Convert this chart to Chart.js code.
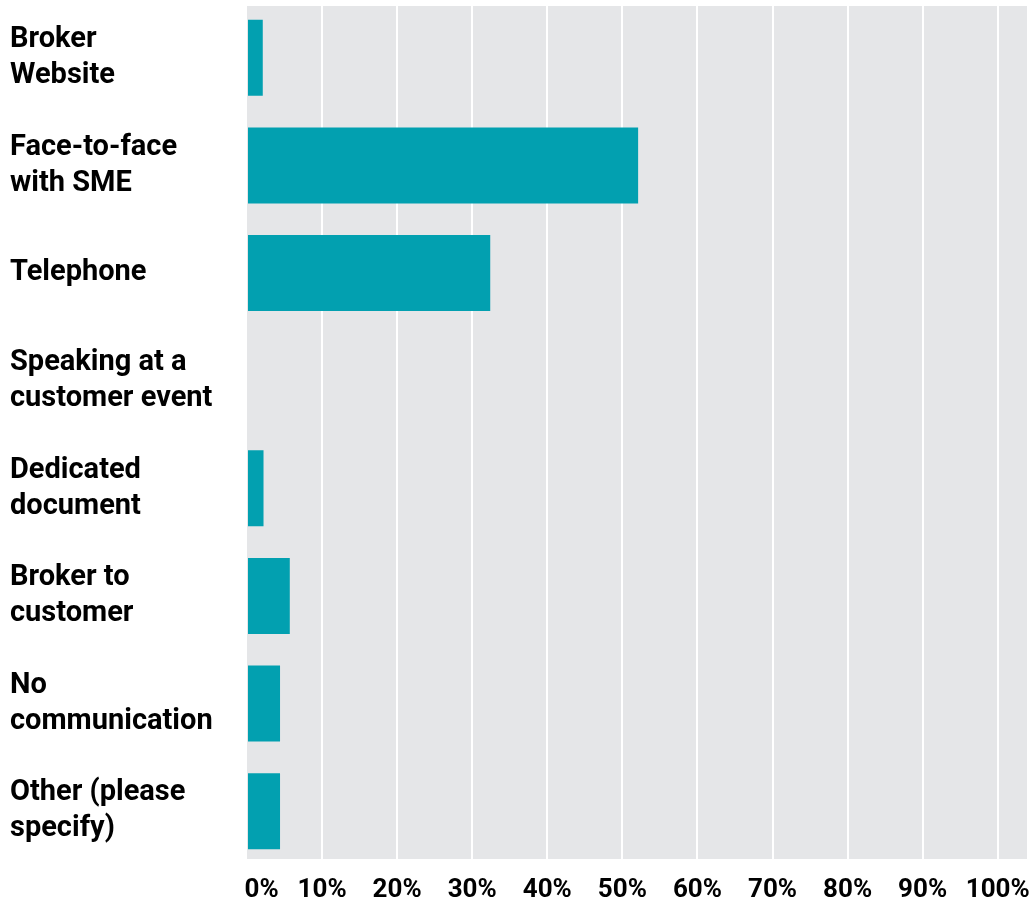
<!DOCTYPE html>
<html>
<head>
<meta charset="utf-8">
<script src="https://cdn.jsdelivr.net/npm/chart.js@4/dist/chart.umd.min.js"></script>
<style>
  html, body { margin: 0; padding: 0; background: #fff; }
  #wrap { width: 1031px; height: 906px; }
</style>
</head>
<body>
<div id="wrap"><canvas id="commsChart"></canvas></div>
<script>
const categories = [
  ['Broker', 'Website'],
  ['Face-to-face', 'with SME'],
  'Telephone',
  ['Speaking at a', 'customer event'],
  ['Dedicated', 'document'],
  ['Broker to', 'customer'],
  ['No', 'communication'],
  ['Other (please', 'specify)']
];
const shares = [2.1, 52.1, 32.4, 0, 2.2, 5.7, 4.4, 4.4];
const tickValues = [0, 10, 20, 30, 40, 50, 60, 70, 80, 90, 100];

const FONT = 'Roboto, "Liberation Sans", sans-serif';

// grey panel behind the bars, a little inside the plot box top and bottom
const panelBg = {
  id: 'panelBg',
  beforeDraw(chart) {
    const { ctx, chartArea: a } = chart;
    ctx.save();
    ctx.fillStyle = '#e5e6e8';
    ctx.fillRect(a.left, a.top + 2, a.right - a.left, a.bottom - a.top - 8);
    ctx.restore();
  }
};

function renderChart() {
  new Chart(document.getElementById('commsChart').getContext('2d'), {
    type: 'bar',
    data: {
      labels: categories,
      datasets: [{
        data: shares,
        backgroundColor: '#02a0b0',
        categoryPercentage: 1,
        barPercentage: 0.705
      }]
    },
    options: {
      indexAxis: 'y',
      responsive: true,
      maintainAspectRatio: false,
      animation: false,
      layout: { padding: { top: 4, right: 4, left: 10, bottom: 0 } },
      plugins: {
        legend: { display: false },
        tooltip: { enabled: false }
      },
      scales: {
        x: {
          min: 0,
          max: 103.9,
          afterBuildTicks(scale) {
            scale.ticks = tickValues.map(v => ({ value: v }));
          },
          afterFit(scale) {
            scale.height = 41;
            scale.paddingLeft = 0;
            scale.paddingRight = 0;
          },
          border: { display: false },
          grid: {
            color: ctx => (ctx.tick && ctx.tick.value === 0 ? 'rgba(0,0,0,0)' : '#ffffff'),
            lineWidth: 2,
            drawTicks: false
          },
          ticks: {
            padding: 10,
            color: '#000',
            font: { family: FONT, weight: 'bold', size: 26 },
            maxRotation: 0,
            autoSkip: false,
            callback: v => (v === 0 ? '\u2007\u20070%' : v + '%')
          }
        },
        y: {
          afterFit(scale) {
            scale.width = 237;
            scale.paddingTop = 0;
            scale.paddingBottom = 0;
          },
          border: { display: false },
          grid: { display: false, drawTicks: false },
          ticks: {
            crossAlign: 'far',
            color: '#000',
            font: { family: FONT, weight: 'bold', size: 29, lineHeight: 1.24 },
            autoSkip: false
          }
        }
      }
    },
    plugins: [panelBg]
  });
}

document.addEventListener('DOMContentLoaded', renderChart);
</script>
</body>
</html>
